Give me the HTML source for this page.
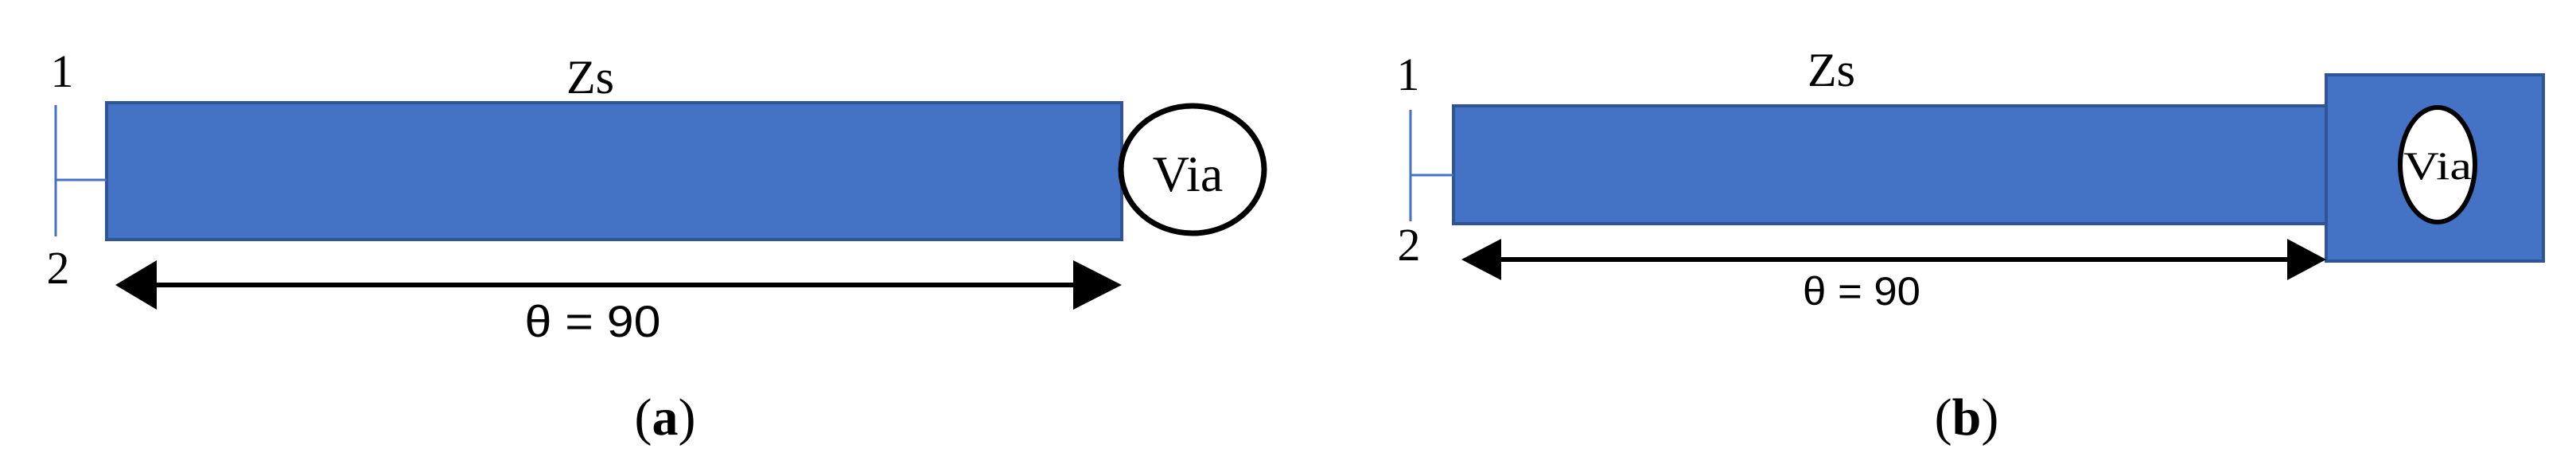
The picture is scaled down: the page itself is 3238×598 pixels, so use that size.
<!DOCTYPE html>
<html><head><meta charset="utf-8"><style>
html,body{margin:0;padding:0;background:#fff;}
svg{display:block}
.s{font-family:"Liberation Serif",serif;fill:#000}
.n{font-family:"Liberation Sans",sans-serif;fill:#000}
</style></head><body>
<svg width="3238" height="598" viewBox="0 0 3238 598" xmlns="http://www.w3.org/2000/svg">
<!-- Panel a -->
<rect x="134" y="129" width="1276" height="172" fill="#4472c4" stroke="#2f5597" stroke-width="4"/>
<line x1="70" y1="132" x2="70" y2="297" stroke="#4472c4" stroke-width="3"/>
<line x1="70" y1="226" x2="134" y2="226" stroke="#4472c4" stroke-width="3"/>
<ellipse cx="1499" cy="213" rx="90" ry="80" fill="#fff" stroke="#000" stroke-width="7"/>
<text x="1493" y="240" class="s" font-size="64" text-anchor="middle">Via</text>
<text x="78" y="109" class="s" font-size="58" text-anchor="middle">1</text>
<text x="73" y="356" class="s" font-size="58" text-anchor="middle">2</text>
<text x="742" y="117" class="s" font-size="60" text-anchor="middle">Zs</text>
<line x1="190" y1="358" x2="1355" y2="358" stroke="#000" stroke-width="6"/>
<polygon points="145,358 197,327 197,389" fill="#000"/>
<polygon points="1410,358 1349,327 1349,389" fill="#000"/>
<text x="745" y="423" class="n" font-size="56" text-anchor="middle" textLength="171" lengthAdjust="spacingAndGlyphs">θ = 90</text>
<text x="836" y="546" class="s" font-size="66" text-anchor="middle">(<tspan font-weight="bold">a</tspan>)</text>
<!-- Panel b -->
<rect x="1827" y="133" width="1097" height="148" fill="#4472c4" stroke="#2f5597" stroke-width="4"/>
<rect x="2924" y="94" width="273" height="234" fill="#4472c4" stroke="#2f5597" stroke-width="4"/>
<line x1="1773" y1="138" x2="1773" y2="278" stroke="#4472c4" stroke-width="3"/>
<line x1="1773" y1="220" x2="1827" y2="220" stroke="#4472c4" stroke-width="3"/>
<ellipse cx="3064" cy="207" rx="47" ry="72" fill="#fff" stroke="#000" stroke-width="6"/>
<text x="3064" y="225" class="s" font-size="50" text-anchor="middle" textLength="86" lengthAdjust="spacingAndGlyphs">Via</text>
<text x="1770" y="113" class="s" font-size="58" text-anchor="middle">1</text>
<text x="1771" y="327" class="s" font-size="58" text-anchor="middle">2</text>
<text x="2302" y="108" class="s" font-size="60" text-anchor="middle">Zs</text>
<line x1="1880" y1="326" x2="2880" y2="326" stroke="#000" stroke-width="6"/>
<polygon points="1837,326 1887,300 1887,352" fill="#000"/>
<polygon points="2924,326 2875,300 2875,352" fill="#000"/>
<text x="2340" y="383" class="n" font-size="50" text-anchor="middle" textLength="148" lengthAdjust="spacingAndGlyphs">θ = 90</text>
<text x="2472" y="546" class="s" font-size="66" text-anchor="middle">(<tspan font-weight="bold">b</tspan>)</text>
</svg>
</body></html>
